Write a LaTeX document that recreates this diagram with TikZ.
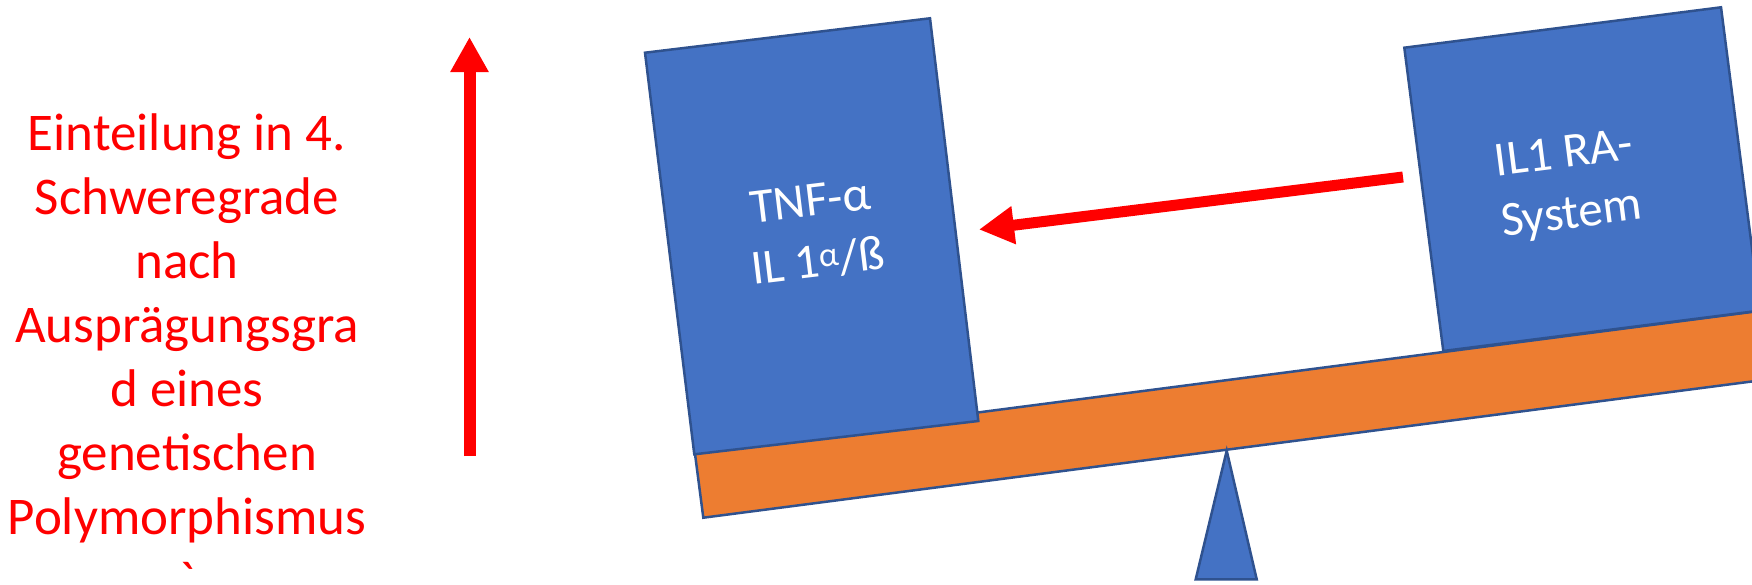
\documentclass[tikz,border=0pt]{standalone}
\usepackage{fontspec}
\setmainfont{Carlito}
\newfontfamily\rawcarlito{Carlito}[Ligatures=TeXOff]
\usetikzlibrary{arrows.meta}
\definecolor{officeblue}{HTML}{4472C4}
\definecolor{blueline}{HTML}{2F528F}
\definecolor{beamorange}{HTML}{ED7D31}
\definecolor{alertred}{HTML}{FF0000}
\begin{document}
\begin{tikzpicture}[x=1pt,y=-1pt,
  blueblock/.style={fill=officeblue, draw=blueline, line width=2.5pt, line join=miter},
  beambar/.style={fill=beamorange, draw=blueline, line width=2.5pt, line join=miter},
  redarrow/.style={draw=alertred, line width=11pt, -{Triangle[length=35pt,width=36pt]}},
  caption/.style={text=alertred, font=\fontsize{53}{64}\selectfont, anchor=base, inner sep=0pt},
  boxlabel/.style={text=white, font=\fontsize{49}{61}\selectfont, align=center, inner sep=0pt}]
\useasboundingbox (0,0) rectangle (1752,584);
\clip (0,0) rectangle (1752,584);

% caption on the left
\foreach \ln [count=\k] in {Einteilung in 4., Schweregrade, nach, Ausprägungsgra, d eines, genetischen, Polymorphismus, {\rawcarlito`}}
  \node[caption] (cap\k) at (187, {150.8+64*(\k-1)}) {\ln};

% upward arrow next to the caption
\coordinate (vbase) at (469.5,456);
\coordinate (vtip) at (469.5,37);
\draw[redarrow, line width=12pt] (vbase) -- (vtip);

% tilted seesaw beam
\coordinate (bBL) at (703.3,517.7);
\coordinate (bBR) at (1893.3,363.1);
\coordinate (bTR) at (1884.4,294.7);
\coordinate (bTL) at (694.4,449.3);
\draw[beambar] (bBL) -- (bBR) -- (bTR) -- (bTL) -- cycle;

% fulcrum
\coordinate (fTop) at (1226.7,450.7);
\coordinate (fR) at (1256.7,579.3);
\coordinate (fL) at (1195.7,579.3);
\draw[blueblock] (fTop) -- (fR) -- (fL) -- cycle;

% left weight
\coordinate (lTL) at (645,52.7);
\coordinate (lTR) at (930,18.3);
\coordinate (lBR) at (978.3,421);
\coordinate (lBL) at (694.3,454.3);
\draw[blueblock] (lTL) -- (lTR) -- (lBR) -- (lBL) -- cycle;
\node[boxlabel, rotate=6.9] (tnf) at (814,232) {TNF-α\\IL 1\textsuperscript{α}/ß};

% right weight
\coordinate (rTL) at (1404.3,47.7);
\coordinate (rTR) at (1721,7.3);
\coordinate (rBR) at (1760,310.6);
\coordinate (rBL) at (1443.3,351);
\draw[blueblock] (rTL) -- (rTR) -- (rBR) -- (rBL) -- cycle;
\node[boxlabel, rotate=7.3] (ilra) at (1568,186) {IL1 RA-\\System};

% arrow between the weights
\coordinate (hTail) at (1403,177);
\coordinate (hTip) at (979,229.5);
\draw[redarrow] (hTail) -- (hTip);
\end{tikzpicture}
\end{document}
